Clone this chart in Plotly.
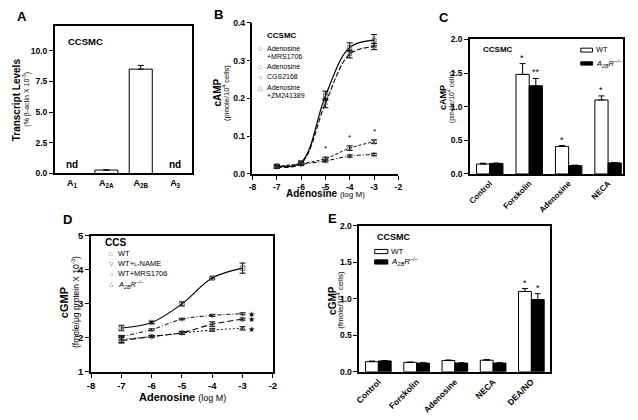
import plotly.graph_objects as go

W, H = 638, 420
FONT = "Liberation Sans, Arial, Helvetica, sans-serif"

# ---------------- data ----------------
# Panel A
a_cats = ["A<sub>1</sub>", "A<sub>2A</sub>", "A<sub>2B</sub>", "A<sub>3</sub>"]
a_vals = [None, 0.28, 8.5, None]
a_err = [0, 0.02, 0.3, 0]
a_nd = ["nd", "", "", "nd"]

# Panel B
b_x = [-7, -6, -5, -4, -3]
b_mrs = [0.020, 0.027, 0.040, 0.068, 0.085]
b_mrs_err = [0.003, 0.003, 0.004, 0.006, 0.005]
b_ado = [0.021, 0.030, 0.207, 0.335, 0.354]
b_ado_err = [0.004, 0.004, 0.012, 0.012, 0.015]
b_cgs = [0.018, 0.025, 0.034, 0.047, 0.051]
b_cgs_err = [0.003, 0.003, 0.003, 0.003, 0.003]
b_zm = [0.018, 0.028, 0.187, 0.317, 0.337]
b_zm_err = [0.004, 0.004, 0.012, 0.010, 0.008]
b_stars = ["", "", "*", "*", "*"]
b_xticks = [-8, -7, -6, -5, -4, -3, -2]
b_xticklabels = ["-8", "-7", "-6", "-5", "-4", "-3", "-2"]

# Panel C
c_cats = ["Control", "Forskolin", "Adenosine", "NECA"]
c_wt = [0.148, 1.48, 0.41, 1.10]
c_wt_err = [0.012, 0.16, 0.012, 0.06]
c_ko = [0.157, 1.31, 0.125, 0.165]
c_ko_err = [0.005, 0.11, 0.006, 0.006]
c_wt_stars = ["", "*", "*", "*"]
c_ko_stars = ["", "**", "", ""]

# Panel D
d_x = [-7, -6, -5, -4, -3]
d_wt = [2.29, 2.45, 3.00, 3.76, 4.05]
d_wt_err = [0.08, 0.03, 0.06, 0.03, 0.15]
d_lname = [2.04, 2.24, 2.55, 2.66, 2.71]
d_lname_err = [0.03, 0.03, 0.02, 0.03, 0.03]
d_mrs = [1.91, 2.04, 2.15, 2.40, 2.55]
d_mrs_err = [0.05, 0.03, 0.04, 0.07, 0.03]
d_ko = [1.95, 2.04, 2.14, 2.23, 2.28]
d_ko_err = [0.10, 0.03, 0.04, 0.04, 0.05]
d_star_x = -2.7
d_star_y = [2.68, 2.54, 2.26]
d_xticks = [-8, -7, -6, -5, -4, -3, -2]
d_xticklabels = ["-8", "-7", "-6", "-5", "-4", "-3", "-2"]

# Panel E
e_cats = ["Control", "Forskolin", "Adenosine", "NECA", "DEA/NO"]
e_wt = [0.14, 0.13, 0.155, 0.16, 1.10]
e_wt_err = [0.008, 0.004, 0.008, 0.008, 0.04]
e_ko = [0.15, 0.12, 0.12, 0.12, 0.99]
e_ko_err = [0.005, 0.004, 0.004, 0.004, 0.08]
e_wt_stars = ["", "", "", "", "*"]
e_ko_stars = ["", "", "", "", "*"]

KO_LABEL = "<i>A<sub>2B</sub>R<sup>−/−</sup></i>"


def px(x):
    return x / W


def py(y):
    return 1 - y / H


fig = go.Figure()
annotations = []
shapes = []


def txt(x, y, text, size, bold=False, angle=0, xanchor="center", yanchor="middle",
        color="black", italic=False):
    annotations.append(dict(
        x=px(x), y=py(y), xref="paper", yref="paper", text=text, showarrow=False,
        textangle=angle, xanchor=xanchor, yanchor=yanchor,
        font=dict(family=FONT, size=size, color=color,
                  weight="bold" if bold else "normal",
                  style="italic" if italic else "normal")))


err_style = dict(type="data", color="black", thickness=1, width=3)

# ---------------- Panel A ----------------
fig.add_trace(go.Bar(
    x=a_cats, y=a_vals, width=0.67, marker=dict(color="white", line=dict(color="black", width=1)),
    error_y=dict(array=a_err, arrayminus=[0] * 4, symmetric=False, **err_style),
    xaxis="x", yaxis="y", showlegend=False))
for c, t in zip(a_cats, a_nd):
    if t:
        annotations.append(dict(x=c, y=0, xref="x", yref="y", text=t, showarrow=False,
                                yanchor="bottom", yshift=1,
                                font=dict(family=FONT, size=10, weight="bold")))

# ---------------- Panel B ----------------
MG = "#555555"
b_series = [
    (b_mrs, b_mrs_err, "diamond-open", dict(dash="3px,2px", width=1)),
    (b_ado, b_ado_err, "square-open", dict(dash="solid", width=1.2)),
    (b_cgs, b_cgs_err, "circle-open", dict(dash="4px,2px,1px,2px", width=1)),
    (b_zm, b_zm_err, "triangle-up-open", dict(dash="5px,2px", width=1.1)),
]
for ys, es, sym, ln in b_series:
    fig.add_trace(go.Scatter(
        x=b_x, y=ys, mode="lines+markers", line=dict(color="black", shape="spline", smoothing=1, **ln),
        marker=dict(symbol=sym, size=4, color=MG, line=dict(width=0.8, color=MG)),
        error_y=dict(array=es, **err_style), xaxis="x2", yaxis="y2", showlegend=False))
for xv, yv, s in zip(b_x, b_mrs, b_stars):
    if s:
        annotations.append(dict(x=xv, y=yv, xref="x2", yref="y2", text=s, showarrow=False,
                                yanchor="bottom", yshift=4, font=dict(family=FONT, size=8)))

# ---------------- Panel C ----------------
BW = 0.335
fig.add_trace(go.Bar(
    x=c_cats, y=c_wt, width=BW, offset=-BW, marker=dict(color="white", line=dict(color="black", width=1)),
    error_y=dict(array=c_wt_err, arrayminus=[0] * 4, symmetric=False, **err_style),
    xaxis="x3", yaxis="y3", showlegend=False))
fig.add_trace(go.Bar(
    x=c_cats, y=c_ko, width=BW, offset=0, marker=dict(color="black", line=dict(color="black", width=1)),
    error_y=dict(array=c_ko_err, arrayminus=[0] * 4, symmetric=False, **err_style),
    xaxis="x3", yaxis="y3", showlegend=False))
for c, v, e, s in zip(c_cats, c_wt, c_wt_err, c_wt_stars):
    if s:
        annotations.append(dict(x=c, y=v + e, xref="x3", yref="y3", text=s, showarrow=False,
                                yanchor="bottom", xshift=-6.7, yshift=-1, font=dict(family=FONT, size=9)))
for c, v, e, s in zip(c_cats, c_ko, c_ko_err, c_ko_stars):
    if s:
        annotations.append(dict(x=c, y=v + e, xref="x3", yref="y3", text=s, showarrow=False,
                                yanchor="bottom", xshift=6.7, yshift=-1, font=dict(family=FONT, size=9)))

# ---------------- Panel D ----------------
d_series = [
    (d_wt, d_wt_err, "square-open", dict(dash="solid", width=1.2)),
    (d_lname, d_lname_err, "triangle-down-open", dict(dash="4px,2px,1px,2px", width=1)),
    (d_mrs, d_mrs_err, "circle-open", dict(dash="6px,3px", width=1.1)),
    (d_ko, d_ko_err, "triangle-up-open", dict(dash="2px,2px", width=1)),
]
for ys, es, sym, ln in d_series:
    fig.add_trace(go.Scatter(
        x=d_x, y=ys, mode="lines+markers", line=dict(color="black", shape="spline", smoothing=1, **ln),
        marker=dict(symbol=sym, size=4.5, color=MG, line=dict(width=0.8, color=MG)),
        error_y=dict(array=es, **err_style), xaxis="x4", yaxis="y4", showlegend=False))
for yv in d_star_y:
    annotations.append(dict(x=d_star_x, y=yv, xref="x4", yref="y4", text="★", showarrow=False,
                            font=dict(family="DejaVu Sans", size=8)))

# ---------------- Panel E ----------------
fig.add_trace(go.Bar(
    x=e_cats, y=e_wt, width=BW, offset=-BW, marker=dict(color="white", line=dict(color="black", width=1)),
    error_y=dict(array=e_wt_err, arrayminus=[0] * 5, symmetric=False, **err_style),
    xaxis="x5", yaxis="y5", showlegend=False))
fig.add_trace(go.Bar(
    x=e_cats, y=e_ko, width=BW, offset=0, marker=dict(color="black", line=dict(color="black", width=1)),
    error_y=dict(array=e_ko_err, arrayminus=[0] * 5, symmetric=False, **err_style),
    xaxis="x5", yaxis="y5", showlegend=False))
for c, v, e, s in zip(e_cats, e_wt, e_wt_err, e_wt_stars):
    if s:
        annotations.append(dict(x=c, y=v + e, xref="x5", yref="y5", text=s, showarrow=False,
                                yanchor="bottom", xshift=-6.5, yshift=-1, font=dict(family=FONT, size=9)))
for c, v, e, s in zip(e_cats, e_ko, e_ko_err, e_ko_stars):
    if s:
        annotations.append(dict(x=c, y=v + e, xref="x5", yref="y5", text=s, showarrow=False,
                                yanchor="bottom", xshift=6.5, yshift=-1, font=dict(family=FONT, size=9)))

# ---------------- axes ----------------
def ax(domain, **kw):
    d = dict(domain=domain, showline=True, linecolor="black", linewidth=1.5, ticks="outside",
             ticklen=4, tickwidth=1.2, tickcolor="black", showgrid=False, zeroline=False,
             tickfont=dict(family=FONT, size=8.5, color="black", weight="bold"), fixedrange=True)
    d.update(kw)
    return d


layout_axes = dict(
    xaxis=ax([px(50.5), px(190)], anchor="y", mirror=True, ticks="", range=[-0.5, 3.5],
             tickfont=dict(family=FONT, size=9, color="black", weight="bold")),
    yaxis=ax([py(172), py(20.7)], anchor="x", mirror=True, range=[0, 12], tickvals=[0, 2.5, 5, 7.5, 10],
             tickformat=".1f"),
    xaxis2=ax([px(251), px(399)], anchor="y2", range=[-8, -2], tickvals=b_xticks, ticktext=b_xticklabels),
    yaxis2=ax([py(172.3), py(17.3)], anchor="x2", range=[0, 0.4], tickvals=[0, 0.1, 0.2, 0.3, 0.4],
              tickformat=".1f"),
    xaxis3=ax([px(471.7), px(626.7)], anchor="y3", mirror=True, ticks="", range=[-0.5, 3.375],
              tickangle=-45, tickfont=dict(family=FONT, size=8, color="black", weight="bold")),
    yaxis3=ax([py(172.5), py(34.3)], anchor="x3", mirror=True, range=[0, 2],
              tickvals=[0, 0.5, 1, 1.5, 2], tickformat=".1f"),
    xaxis4=ax([px(87.3), px(271.7)], anchor="y4", mirror=True, range=[-8, -2], tickvals=d_xticks,
              ticktext=d_xticklabels, tickfont=dict(family=FONT, size=9.5, color="black", weight="bold")),
    yaxis4=ax([py(375.7), py(236)], anchor="x4", mirror=True, range=[1, 5], tickvals=[1, 2, 3, 4, 5],
              tickfont=dict(family=FONT, size=9.5, color="black", weight="bold")),
    xaxis5=ax([px(359.3), px(553.3)], anchor="y5", mirror=True, ticks="", range=[-0.5, 4.5],
              tickangle=-45, tickfont=dict(family=FONT, size=8.5, color="black", weight="bold")),
    yaxis5=ax([py(375.7), py(225.7)], anchor="x5", mirror=True, range=[0, 2],
              tickvals=[0, 0.5, 1, 1.5, 2], tickformat=".1f"),
)

# ---------------- panel letters ----------------
for lx, ly, L in [(17, 11, "A"), (216.5, 9, "B"), (445.5, 11.5, "C"), (63, 219, "D"), (332.5, 218.5, "E")]:
    txt(lx, ly, L, 13, bold=True)

# ---------------- axis titles ----------------
txt(12, 96, "Transcript Levels", 10, bold=True, angle=-90)
txt(21.5, 96, "(% β-actin X 10<sup>-3</sup>)", 7, angle=-90)

txt(216, 89, "cAMP", 10, bold=True, angle=-90)
txt(223.5, 89, "(pmole/10<sup>4</sup> cells)", 7.5, angle=-90)
txt(325, 193, "<b>Adenosine</b> <span style='font-size:8px'>(log M)</span>", 10)

txt(443.7, 94, "cAMP", 9, bold=True, angle=-90)
txt(453, 94, "(pmole/10<sup>4</sup> cells)", 7, angle=-90)

txt(60, 305, "cGMP", 11, bold=True, angle=-90)
txt(71, 304, "(fmole/μg protein X 10<sup>-3</sup>)", 8.5, angle=-90)
txt(180, 401.7, "<b>Adenosine</b> <span style='font-size:9px'>(log M)</span>", 11)

txt(331.5, 302, "cGMP", 10, bold=True, angle=-90)
txt(339.5, 302, "(fmole/10<sup>4</sup> cells)", 8, angle=-90)

# ---------------- in-plot labels / legends ----------------
txt(62, 36, "CCSMC", 9.5, bold=True, xanchor="left")

# B legend
txt(264, 30, "CCSMC", 8, bold=True, xanchor="left")
b_leg = [("◇", "Adenosine", 43.3), (None, "+MRS1706", 51.7), ("□", "Adenosine", 62.3),
         ("○", "CGS2168", 72.7), ("△", "Adenosine", 84), (None, "+ZM241389", 92.3)]
for sym, label, yy in b_leg:
    if sym:
        txt(259, yy, sym, 5.5, color=MG)
    txt(263.5, yy, label, 7, xanchor="left")

# C legend
txt(482.7, 45, "CCSMC", 8, bold=True, xanchor="left")
shapes.append(dict(type="rect", xref="paper", yref="paper", x0=px(584), x1=px(596), y0=py(47.3), y1=py(43.3),
                   fillcolor="white", line=dict(color="black", width=1)))
shapes.append(dict(type="rect", xref="paper", yref="paper", x0=px(584), x1=px(596), y0=py(60.7), y1=py(57.3),
                   fillcolor="black", line=dict(color="black", width=1)))
txt(597.5, 45, "WT", 7.5, xanchor="left")
txt(597.5, 59, KO_LABEL, 7.5, xanchor="left")

# D legend
txt(99, 243, "CCS", 10, bold=True, xanchor="left")
d_leg = [("□", "WT", 254.3), ("▽", "WT+<span style='font-size:5.5px'>L</span>-NAME", 264.5),
         ("○", "WT+MRS1706", 275), ("△", KO_LABEL, 285.5)]
for sym, label, yy in d_leg:
    txt(108, yy, sym, 5.5, color=MG)
    txt(112.3, yy, label, 7.5, xanchor="left")

# E legend
txt(375, 236.7, "CCSMC", 9, bold=True, xanchor="left")
shapes.append(dict(type="rect", xref="paper", yref="paper", x0=px(375), x1=px(388.3), y0=py(254.3), y1=py(250),
                   fillcolor="white", line=dict(color="black", width=1)))
shapes.append(dict(type="rect", xref="paper", yref="paper", x0=px(375), x1=px(388.3), y0=py(265), y1=py(260.7),
                   fillcolor="black", line=dict(color="black", width=1)))
txt(389.5, 252, "WT", 8, xanchor="left")
txt(389.5, 262.7, KO_LABEL, 8, xanchor="left")

fig.update_layout(
    width=W, height=H, margin=dict(l=0, r=0, t=0, b=0),
    paper_bgcolor="white", plot_bgcolor="white",
    font=dict(family=FONT, color="black"),
    showlegend=False, annotations=annotations, shapes=shapes,
    **layout_axes)

fig.write_html("out.html", config={"displayModeBar": False},
               post_script="document.body.style.margin='0';document.body.style.overflow='hidden';")
